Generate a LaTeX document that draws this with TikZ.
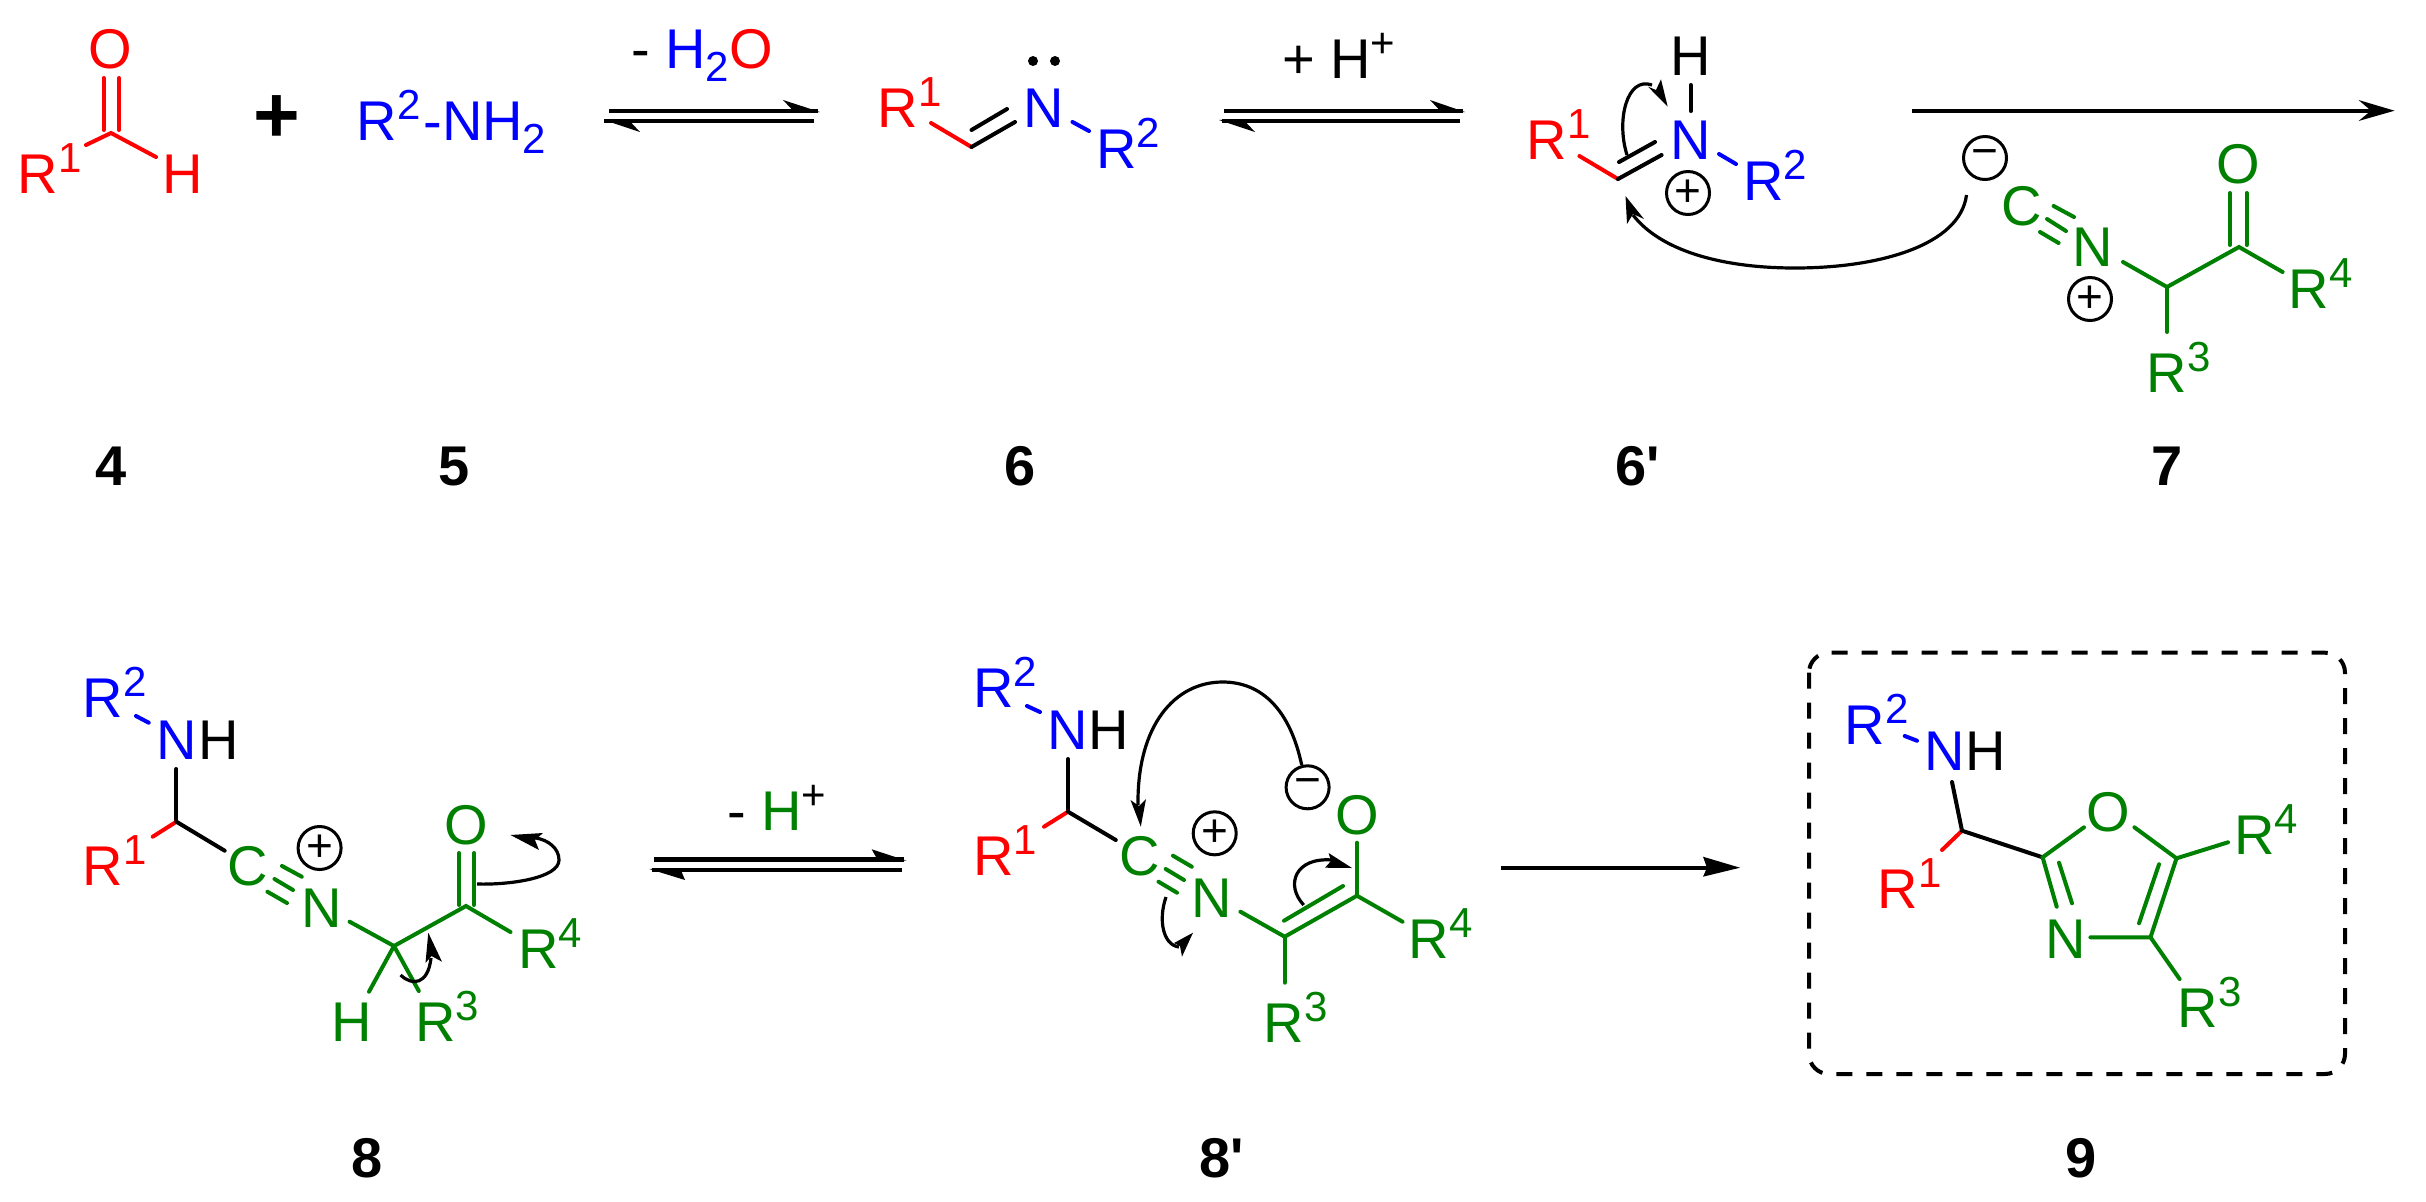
\documentclass[tikz,border=0pt]{standalone}
\usepackage{fontspec}
\setmainfont{Liberation Sans}
\definecolor{cred}{RGB}{255,0,0}
\definecolor{cblue}{RGB}{0,0,255}
\definecolor{cgreen}{RGB}{0,128,0}
\newcommand{\SupD}[1]{\raisebox{10.5pt}{\fontsize{21}{21}\selectfont #1}}
\newcommand{\SubD}[1]{\raisebox{-6.5pt}{\fontsize{21}{21}\selectfont #1}}
\newcommand{\Rg}[1]{R\SupD{#1}}
\newcommand{\At}[5]{\node[atomtext,text=#4] (#1) at (#2,#3) {#5};}
\newcommand{\Lab}[4]{\node[labeltext] (#1) at (#2,#3) {#4};}
\newcommand{\Pos}[3]{\node[chargering] (#1) at (#2,#3) {+};}
\newcommand{\Neg}[3]{\node[chargering] (#1) at (#2,#3) {−};}
\tikzset{
  atomtext/.style={inner sep=0pt,outer sep=0pt,anchor=base west,xshift=-2.2pt,font=\fontsize{28}{30}\selectfont},
  labeltext/.style={inner sep=0pt,outer sep=0pt,anchor=base,font=\fontsize{28}{30}\selectfont\bfseries},
  chargering/.style={circle,draw=black,line width=1.5pt,minimum size=21.5pt,inner sep=0pt,font=\fontsize{23}{23}\selectfont},
  bond/.style={line width=2pt,line cap=round},
  rb/.style={bond,draw=cred},
  bb/.style={bond,draw=cblue},
  gb/.style={bond,draw=cgreen},
  kb/.style={bond,draw=black},
  push/.style={line width=1.6pt,draw=black},
  rxn/.style={line width=2.2pt,draw=black},
  head/.style={fill=black,draw=none},
}
\begin{document}
\begin{tikzpicture}[x=0.5pt,y=-0.5pt]
\useasboundingbox (0,0) rectangle (2426,1201);
\fill[white] (0,0) rectangle (2426,1201);

% ---- 4
\At{o4}{92.5}{68}{cred}{O}
\At{r4a}{22}{193}{cred}{\Rg{1}}
\At{h4}{167}{193}{cred}{H}
\draw[rb] (103.5,78) -- (103.5,130);
\draw[rb] (119,78) -- (119,130);
\draw[rb] (86,145) -- (111,133) -- (156,157);
\node[inner sep=0pt,font=\fontsize{40}{40}\selectfont\bfseries] (plus) at (277,119) {+};
% ---- 5
\At{amine}{361}{140}{cblue}{\Rg{2}\kern1.5pt-NH\SubD{2}}
% ---- arrow 1
\node[atomtext] (water) at (635.4,68) {- \textcolor{cblue}{H\SubD{2}}\textcolor{cred}{O}};
\draw[rxn] (609,111) -- (818,111);
\draw[rxn] (604,121) -- (814,121);
\fill[head] (820,112) -- (783,100) -- (791,108.5) -- (791,113) -- cycle;
\fill[head] (604,120) -- (640,132) -- (632,123.5) -- (632,119) -- cycle;
% ---- 6
\At{r6a}{882}{127}{cred}{\Rg{1}}
\draw[rb] (931,123) -- (971.5,147);
\draw[kb] (971.5,147) -- (1015,122);
\draw[kb] (971.5,130) -- (1007,109);
\At{n6}{1028}{127}{cblue}{N}
\fill (1033,61) circle[radius=5];
\fill (1055,61) circle[radius=5];
\draw[bb] (1072.5,122) -- (1089,131);
\At{r6b}{1100.6}{168}{cblue}{\Rg{2}}
% ---- arrow 2
\node[atomtext] (proton) at (1286.4,78) {+ H\SupD{+}};
\draw[rxn] (1224,111) -- (1463,111);
\draw[rxn] (1460,121) -- (1222,121);
\fill[head] (1465,112) -- (1430,100) -- (1438,108.5) -- (1438,113) -- cycle;
\fill[head] (1219,120) -- (1255,132) -- (1247,123.5) -- (1247,119) -- cycle;
% ---- 6'
\At{r6c}{1531}{159}{cred}{\Rg{1}}
\draw[rb] (1579.4,156) -- (1618,179);
\draw[kb] (1618,179) -- (1661.6,155);
\draw[kb] (1619,162) -- (1655,142);
\At{n6c}{1675}{159}{cblue}{N}
\At{h6c}{1675}{75.7}{black}{H}
\draw[kb] (1690.7,85) -- (1690.7,111);
\draw[bb] (1719,154) -- (1736,164);
\At{r6d}{1747.5}{200}{cblue}{\Rg{2}}
\Pos{p6c}{1688}{193}
\draw[push] (1627,155) .. controls (1616,120) and (1627,76) .. (1652,85);
\fill[head] (1667.7,106.7) -- (1661,79.3) -- (1656,90) -- (1648,86.7) -- cycle;
\draw[push] (1966.5,195) .. controls (1960,245) and (1880,268) .. (1795,268) .. controls (1720,268) and (1660,250) .. (1633,215);
\fill[head] (1625.5,196) -- (1627,224) -- (1633,214) -- (1644,219) -- cycle;
% ---- arrow 3
\draw[rxn] (1912,110.7) -- (2375,110.7);
\fill[head] (2394.6,110.7) -- (2358.5,100) -- (2371,110.7) -- (2358.5,121) -- cycle;
% ---- 7
\Neg{m7}{1985}{158}
\At{c7}{2005.6}{225}{cgreen}{C}
\draw[gb] (2047,219) -- (2066,231);
\draw[gb] (2053.6,206) -- (2074,217);
\draw[gb] (2040,232) -- (2058.6,243);
\At{n7}{2077}{266}{cgreen}{N}
\Pos{p7}{2090}{299}
\draw[gb] (2123,262) -- (2167,287) -- (2239,247) -- (2282.6,272);
\draw[gb] (2167,287) -- (2167,332);
\draw[gb] (2230,193) -- (2230,245);
\draw[gb] (2246.5,193) -- (2246.5,245);
\At{o7}{2220.6}{183}{cgreen}{O}
\At{r7a}{2293}{308}{cgreen}{\Rg{4}}
\At{r7b}{2151}{392}{cgreen}{\Rg{3}}
% ---- row 1 labels
\Lab{l4}{111}{485.7}{4}
\Lab{l5}{454}{485.7}{5}
\Lab{l6}{1020.5}{485.7}{6}
\node[labeltext,anchor=base west] (l6p) at (1615,485.7) {6\textquotesingle};
\Lab{l7}{2167}{485.7}{7}

% ---- 8
\At{r8a}{87.4}{717}{cblue}{\Rg{2}}
\draw[bb] (136,716) -- (148.7,722.7);
\At{n8}{160.6}{759}{cblue}{N}
\At{h8}{203}{759}{black}{H}
\draw[kb] (176.4,769) -- (176.4,821.7);
\draw[rb] (176.4,821.7) -- (152.7,836.7);
\draw[kb] (176.4,821.7) -- (224.7,850.7);
\At{r8b}{87.4}{885.7}{cred}{\Rg{1}}
\At{c8}{232.2}{885.7}{cgreen}{C}
\Pos{p8}{319.6}{848}
\draw[gb] (282,866) -- (301.8,876.7);
\draw[gb] (274.5,879) -- (293,890);
\draw[gb] (267.4,891.7) -- (287,903);
\At{n8b}{305.7}{927}{cgreen}{N}
\draw[gb] (349.6,921.7) -- (394,946) -- (466,906) -- (510.5,932);
\draw[gb] (459,853) -- (459,905);
\draw[gb] (474,853) -- (474,905);
\At{o8}{448.6}{844}{cgreen}{O}
\At{r8c}{522.4}{968}{cgreen}{\Rg{4}}
\draw[gb] (394,946) -- (369,991.7);
\draw[gb] (394,946) -- (418.8,991);
\At{h8b}{335.8}{1041.7}{cgreen}{H}
\At{r8d}{419.6}{1041.7}{cgreen}{\Rg{3}}
\draw[push] (400.6,975) .. controls (412,986) and (428,985) .. (431,958);
\fill[head] (428.3,932.7) -- (425.5,963) -- (431.5,956) -- (442,961.7) -- cycle;
\draw[push] (477,884) .. controls (510,885) and (559,878) .. (559,860) .. controls (559,848) and (548,840) .. (536,838);
\fill[head] (510.5,835) -- (543,833) -- (535,840) -- (539,850) -- cycle;
% ---- arrow 4
\node[atomtext] (deprot) at (731.4,830.7) {- \textcolor{cgreen}{H}\SupD{+}};
\draw[rxn] (654,859.3) -- (904,859.3);
\draw[rxn] (901.7,870) -- (652,870);
\fill[head] (906.7,860.7) -- (871.7,849.3) -- (876,857) -- (876,861) -- cycle;
\fill[head] (649.3,869) -- (685,880) -- (681.7,872) -- (681.7,868) -- cycle;
% ---- 8'
\At{r9a}{977.4}{707}{cblue}{\Rg{2}}
\draw[bb] (1027,706) -- (1040,712);
\At{n9}{1051.4}{749}{cblue}{N}
\At{h9}{1093}{749}{black}{H}
\draw[kb] (1068,759) -- (1068,811.7);
\draw[rb] (1068,811.7) -- (1044,826.7);
\draw[kb] (1068,811.7) -- (1115.8,840);
\At{r9b}{977.4}{875.7}{cred}{\Rg{1}}
\At{c9}{1123.4}{875.7}{cgreen}{C}
\Pos{p9}{1214.7}{833.3}
\draw[gb] (1173,855.7) -- (1191.8,866.7);
\draw[gb] (1165.7,869) -- (1184,880);
\draw[gb] (1158.5,881.7) -- (1177,892.7);
\At{n9b}{1195.7}{917}{cgreen}{N}
\draw[gb] (1240.4,911.7) -- (1284.7,936.7) -- (1357,895.7) -- (1402.5,921.7);
\draw[gb] (1284,920.7) -- (1343,886);
\draw[gb] (1357,842.7) -- (1357,895.7);
\At{o9}{1339.6}{834}{cgreen}{O}
\At{r9c}{1413}{958}{cgreen}{\Rg{4}}
\draw[gb] (1284.7,936.7) -- (1284.7,982.7);
\At{r9d}{1268}{1042.3}{cgreen}{\Rg{3}}
\Neg{m9}{1307.6}{787.3}
\draw[push] (1301.7,765) .. controls (1290,710) and (1262,682) .. (1222.6,682) .. controls (1175,682) and (1137,725) .. (1138,805);
\fill[head] (1140.8,826.7) -- (1130.5,800) -- (1139,806) -- (1146,799) -- cycle;
\draw[push] (1166,897) .. controls (1158,920) and (1163,945) .. (1179,947);
\fill[head] (1193,932.7) -- (1182,956.7) -- (1180,946) -- (1174,943) -- cycle;
\draw[push] (1303.7,905) .. controls (1285,885) and (1295,857) .. (1332,860);
\fill[head] (1352,868) -- (1328.6,853) -- (1331,861) -- (1325,867.7) -- cycle;
% ---- arrow 5
\draw[rxn] (1501,867.7) -- (1720,867.7);
\fill[head] (1740,867.7) -- (1703,856.7) -- (1707,867.7) -- (1703,876.7) -- cycle;
% ---- 9
\draw[line width=2pt,dash pattern=on 8pt off 7pt,rounded corners=10pt] (1809,652.7) rectangle (2345,1074);
\At{r10a}{1849}{744}{cblue}{\Rg{2}}
\draw[bb] (1904.8,736) -- (1917,740.7);
\At{n10}{1928.5}{770}{cblue}{N}
\At{h10}{1970}{770}{black}{H}
\draw[kb] (1952,782) -- (1962,830.7);
\draw[rb] (1962,830.7) -- (1942,850);
\draw[kb] (1962,830.7) -- (2042.6,857.3);
\At{r10b}{1882}{908.3}{cred}{\Rg{1}}
\At{o10}{2091}{831}{cgreen}{O}
\draw[gb] (2056.7,906.7) -- (2042.6,857.3) -- (2084,827.3);
\draw[gb] (2134.4,827.3) -- (2176.5,858.3) -- (2228,842.3);
\draw[gb] (2176.5,858.3) -- (2150.5,937.3) -- (2090.4,937.3);
\draw[gb] (2159,864.3) -- (2139,923.3);
\draw[gb] (2059,862.7) -- (2072,903.3);
\draw[gb] (2150.5,937.3) -- (2179.6,979);
\At{r10c}{2238.5}{854.3}{cgreen}{\Rg{4}}
\At{n10b}{2050}{958.3}{cgreen}{N}
\At{r10d}{2182}{1027.3}{cgreen}{\Rg{3}}
% ---- row 2 labels
\Lab{l8}{367}{1177}{8}
\node[labeltext,anchor=base west] (l8p) at (1199,1177) {8\textquotesingle};
\Lab{l9}{2081}{1177}{9}
\end{tikzpicture}
\end{document}
